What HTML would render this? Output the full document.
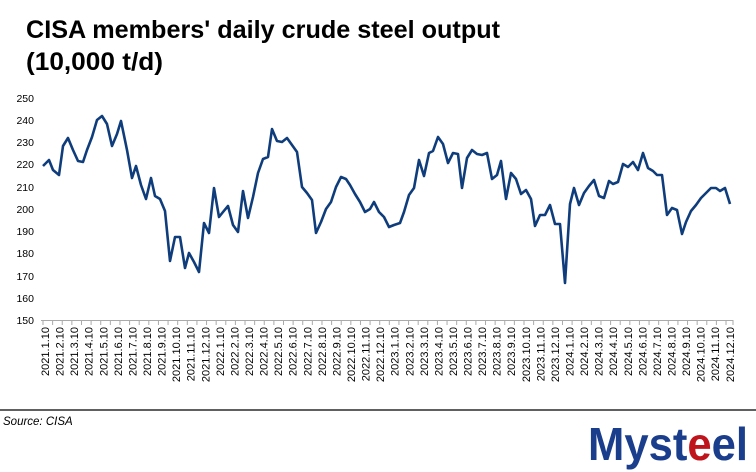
<!DOCTYPE html>
<html><head><meta charset="utf-8"><style>
html,body{margin:0;padding:0;background:#fff;}
svg{display:block;font-family:"Liberation Sans",sans-serif;}
</style></head><body>
<svg width="756" height="472" viewBox="0 0 756 472" xmlns="http://www.w3.org/2000/svg">
<text x="26" y="38" font-size="25" font-weight="bold" textLength="474" lengthAdjust="spacingAndGlyphs">CISA members' daily crude steel output</text>
<text x="26" y="70" font-size="25" font-weight="bold" textLength="137" lengthAdjust="spacingAndGlyphs">(10,000 t/d)</text>
<g font-size="10.5" text-anchor="end" fill="#000">
<text x="34" y="102">250</text><text x="34" y="124">240</text><text x="34" y="146">230</text><text x="34" y="168">220</text><text x="34" y="191">210</text><text x="34" y="213">200</text><text x="34" y="235">190</text><text x="34" y="257">180</text><text x="34" y="280">170</text><text x="34" y="302">160</text><text x="34" y="324">150</text>
</g>
<g id="ax" stroke="#aaa" stroke-width="1"></g>
<line x1="41" y1="320.5" x2="733" y2="320.5" stroke="#aaa"/>
<g id="xl" font-size="11"></g>
<polyline fill="none" stroke="#0f3d7c" stroke-width="2.6" stroke-linejoin="round" points="43,166 49,160 53,170 59,175 63,146 68,138 73,150 78,161 83,162 87,150 92,137 97,120 102,116 107,124 112,146 117,134 121,121 127,150 132,178 136,166 141,185 146,199 151,178 155,196 160,199 165,211 170,261 175,237 180,237 185,268 189,253 194,262 199,272 204,223 209,233 214,188 219,217 223,212 228,206 233,225 238,232 243,191 248,218 253,197 258,173 263,159 268,157 272,129 277,141 282,142 287,138 292,145 297,152 302,187 307,193 312,200 316,233 321,222 326,209 331,202 336,187 341,177 346,179 350,185 355,194 360,202 365,212 370,209 374,202 379,212 384,217 389,227 394,225 400,223 404,212 409,195 414,188 419,160 424,176 429,153 433,151 438,137 443,144 448,163 453,153 458,154 462,188 467,158 472,150 477,154 482,155 487,153 492,179 497,175 501,161 506,199 511,173 516,179 521,194 526,190 531,199 535,226 540,215 545,215 550,205 555,224 560,224 565,283 570,204 574,188 579,205 584,193 589,186 594,180 599,196 604,198 609,181 613,184 618,182 623,164 628,167 633,162 638,170 643,153 648,168 653,171 657,175 662,175 667,215 672,208 677,210 682,234 686,222 691,211 696,205 701,198 706,193 711,188 716,188 720,191 725,188 730,204"/>
<line x1="0" y1="410" x2="756" y2="410" stroke="#000" stroke-width="1.2"/>
<text x="3" y="425" font-size="11.5" font-style="italic">Source: CISA</text>
<text x="588" y="460" font-size="46" font-weight="bold" fill="#1a3e8c" textLength="160" lengthAdjust="spacingAndGlyphs">Myst<tspan fill="#c0141c">e</tspan>el</text>
<script>
var ax=document.getElementById('ax'),xl=document.getElementById('xl'),ns='http://www.w3.org/2000/svg';
for(var i=0;i<=72;i++){var x=43+i*9.62;if(x>734)x=733;var l=document.createElementNS(ns,'line');l.setAttribute('x1',x);l.setAttribute('x2',x);l.setAttribute('y1',320);l.setAttribute('y2',325);ax.appendChild(l);}
for(var k=0;k<48;k++){var y=2021+Math.floor(k/12),m=k%12+1;var x=45+k*14.57+4;var t=document.createElementNS(ns,'text');t.setAttribute('transform','translate('+x+',327) rotate(-90)');t.setAttribute('text-anchor','end');t.textContent=y+'.'+m+'.10';xl.appendChild(t);}
</script>
</svg>
</body></html>
